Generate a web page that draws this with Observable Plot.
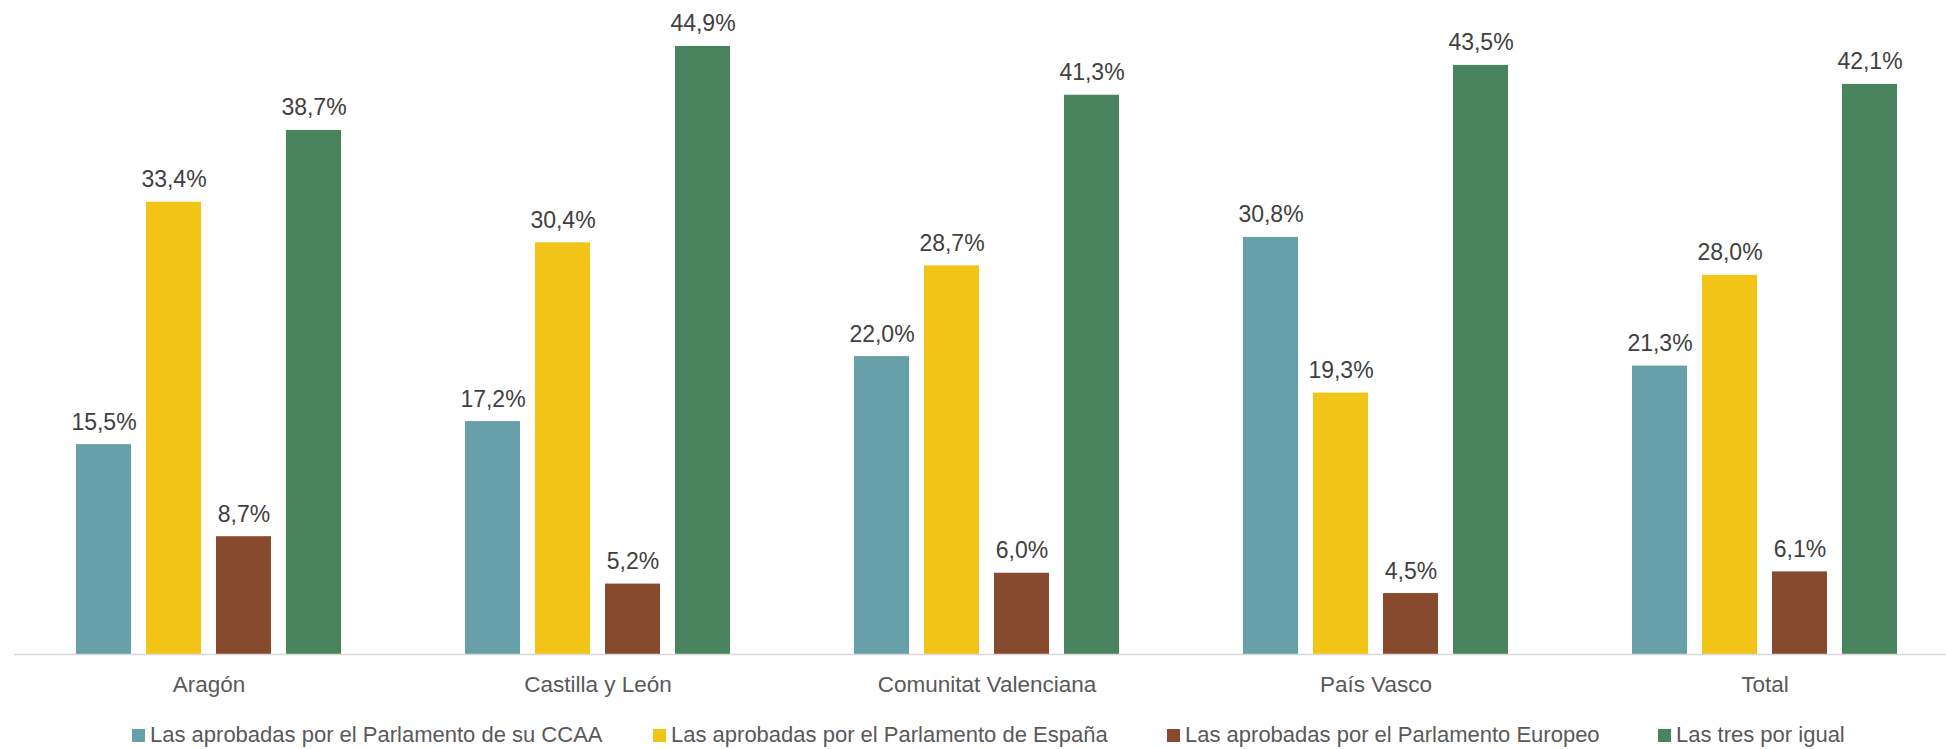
<!DOCTYPE html>
<html>
<head>
<meta charset="utf-8">
<script src="https://cdn.jsdelivr.net/npm/d3@7"></script>
<script src="https://cdn.jsdelivr.net/npm/@observablehq/plot@0.6"></script>
<style>
  html, body { margin: 0; padding: 0; background: #ffffff; }
  #chart svg { display: block; }
  #legend {
    position: relative; margin-top: 5px; height: 36px; line-height: 36px;
    font-family: "Liberation Sans", Arial, sans-serif; font-size: 22px; color: #595959;
    white-space: nowrap;
  }
  #legend .item { position: absolute; top: 0; display: flex; align-items: center; height: 36px; }
  #legend .sw { width: 13px; height: 13px; margin-right: 5px; flex: none; }
</style>
</head>
<body>
<div id="chart"></div>
<div id="legend"></div>
<script>
const groups = ["Aragón", "Castilla y León", "Comunitat Valenciana", "País Vasco", "Total"];
const series = [
  "Las aprobadas por el Parlamento de su CCAA",
  "Las aprobadas por el Parlamento de España",
  "Las aprobadas por el Parlamento Europeo",
  "Las tres por igual"
];
const ccaa    = [15.5, 17.2, 22.0, 30.8, 21.3];
const espana  = [33.4, 30.4, 28.7, 19.3, 28.0];
const europeo = [8.7, 5.2, 6.0, 4.5, 6.1];
const tres    = [38.7, 44.9, 41.3, 43.5, 42.1];
const colors  = ["#68A0A9", "#F2C417", "#874A2E", "#4A845F"];
// legend item left offsets (layout)
const legendLeft = [132, 653, 1167, 1658];

const valuesBySeries = [ccaa, espana, europeo, tres];
const data = [];
groups.forEach((g, gi) => {
  series.forEach((s, si) => {
    data.push({group: g, series: s, value: valuesBySeries[si][gi]});
  });
});

const fmt = v => d3.format(".1f")(v).replace(".", ",") + "%";

const W = 1946, H = 712;
const chart = Plot.plot({
  width: W,
  height: H,
  marginLeft: 13,
  marginRight: -13.5,
  marginTop: 4,
  marginBottom: 58,
  style: {fontFamily: "Liberation Sans, Arial, sans-serif", background: "#ffffff"},
  fx: {domain: groups, padding: 0, axis: "bottom", label: null, tickSize: 0, tickPadding: 22},
  x: {domain: series, paddingInner: 0.215, paddingOuter: 0.86, axis: null},
  y: {domain: [0, 48], axis: null},
  color: {domain: series, range: colors},
  marks: [
    Plot.barY(data, {fx: "group", x: "series", y: "value", fill: "series"}),
    Plot.ruleY([0], {stroke: "#D9D9D9", strokeWidth: 1.6}),
    Plot.text(data, {
      fx: "group", x: "series", y: "value", text: d => fmt(d.value),
      lineAnchor: "bottom", dy: -15, fill: "#404040", fontSize: 23,
      fontFamily: "Liberation Sans, Arial, sans-serif"
    })
  ]
});
chart.querySelectorAll('g[aria-label="fx-axis tick label"] text, g[aria-label="fx-axis tick label"]').forEach(el => {
  el.setAttribute("font-size", "22.5");
  el.setAttribute("fill", "#595959");
});
document.getElementById("chart").appendChild(chart);

const legend = document.getElementById("legend");
series.forEach((s, i) => {
  const item = document.createElement("div");
  item.className = "item";
  item.style.left = legendLeft[i] + "px";
  const sw = document.createElement("span");
  sw.className = "sw";
  sw.style.background = colors[i];
  const t = document.createElement("span");
  t.textContent = s;
  item.appendChild(sw);
  item.appendChild(t);
  legend.appendChild(item);
});
</script>
</body>
</html>
